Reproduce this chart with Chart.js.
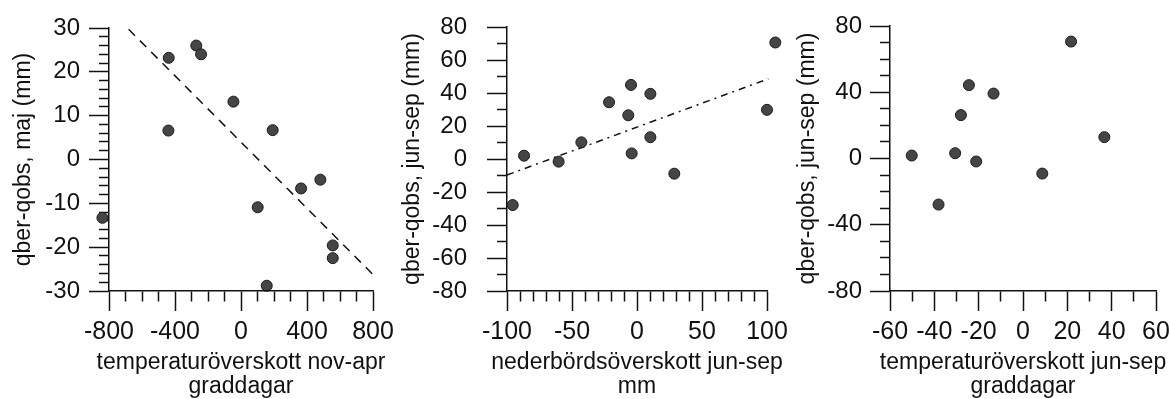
<!DOCTYPE html>
<html>
<head>
<meta charset="utf-8">
<script src="https://cdn.jsdelivr.net/npm/chart.js@4"></script>
<style>
  html, body { margin: 0; padding: 0; background: #fff; }
  #wrap { position: relative; width: 1170px; height: 399px; overflow: hidden; }
  #wrap canvas { position: absolute; left: 0; top: 0; }
</style>
</head>
<body>
<div id="wrap">
  <canvas id="c1" width="1170" height="399"></canvas>
  <canvas id="c2" width="1170" height="399"></canvas>
  <canvas id="c3" width="1170" height="399"></canvas>
</div>
<script>
// panel 1: temperaturöverskott nov-apr vs qber-qobs maj
const tempNovApr = [-840, -438, -440, -271, -242, -46, 192, 101, 364, 481, 556, 556, 156];
const qMaj = [-13.3, 23.2, 6.6, 26.0, 24.0, 13.2, 6.7, -10.9, -6.6, -4.6, -19.6, -22.5, -28.8];
const fitMajX = [-681, 804];
const fitMajY = [29.7, -26.4];

// panel 2: nederbördsöverskott jun-sep vs qber-qobs jun-sep
const precJunSep = [106.4, -95.6, -86.9, -60.3, -42.8, -21.5, -6.7, -4.6, -4.1, 10.3, 10.3, 28.7, 100];
const qJunSep = [70.6, -27.9, 2.0, -1.6, 10.1, 34.4, 26.5, 44.9, 3.4, 39.5, 13.2, -8.9, 29.8];
const fitPrecX = [-100, 101];
const fitPrecY = [-9.7, 48.6];

// panel 3: temperaturöverskott jun-sep vs qber-qobs jun-sep
const tempJunSep = [-50.2, -38.1, -30.6, -28.0, -24.4, -21.1, -13.3, 8.7, 21.7, 36.7];
const qJunSep3 = [1.8, -27.8, 3.2, 26.2, 44.3, -1.8, 39.2, -9.1, 70.6, 12.9];

const FONT = "'Liberation Sans', Arial, Helvetica, sans-serif";
const INK = '#111';
const W = 1170, H = 399;
const Y_TITLE_SIZE = 23, Y_TITLE_LH = 1.2;

const isMajor = (v, step) => Math.abs(Math.round(v / step) * step - v) < 1e-6;

// points just outside the axes (e.g. x=-840) are still drawn in the original,
// and the x titles are wider than the plot, so don't squeeze them
const looseArea = {
  id: 'looseArea',
  beforeDraw(c) {
    const s = c.scales.x;
    s._l = s.left; s._r = s.right;
    s.left -= 60; s.right += 60;
  },
  beforeDatasetsDraw(c) {
    const s = c.scales.x;
    s.left = s._l; s.right = s._r;
    c._realArea = c.chartArea;
    c.chartArea = {left: 0, top: 0, right: c.width, bottom: c.height, width: c.width, height: c.height};
  },
  afterDatasetsDraw(c) { c.chartArea = c._realArea; }
};

function makePanel(id, p) {
  const points = p.xs.map((x, i) => ({x: x, y: p.ys[i]}));
  const datasets = [{
    data: points,
    pointRadius: 5.5,
    pointBackgroundColor: '#454545',
    pointBorderColor: '#1a1a1a',
    pointBorderWidth: 1,
    clip: false
  }];
  if (p.fitX) {
    datasets.push({
      data: p.fitX.map((x, i) => ({x: x, y: p.fitY[i]})),
      showLine: true,
      pointRadius: 0,
      borderColor: INK,
      borderWidth: 1.5,
      borderDash: p.dash,
      clip: false
    });
  }
  const padLeft = p.yTitleX - Y_TITLE_SIZE * Y_TITLE_LH / 2;
  new Chart(document.getElementById(id), {
    type: 'scatter',
    data: {datasets: datasets},
    options: {
      responsive: false,
      animation: false,
      events: [],
      layout: {padding: {left: padLeft, right: W - p.area.right, top: p.area.top, bottom: 0}},
      plugins: {legend: {display: false}, tooltip: {enabled: false}},
      scales: {
        x: {
          type: 'linear', min: p.xMin, max: p.xMax,
          afterFit: s => { s.height = H - p.area.bottom; s.paddingLeft = 0; s.paddingRight = 0; },
          border: {display: true, color: INK, width: 1.5, z: 1},
          grid: {
            drawOnChartArea: false, tickLength: 20, tickColor: INK, tickWidth: 1.5,
            tickBorderDash: c => isMajor(c.tick.value, p.xMajor) ? [] : [10, 10]
          },
          ticks: {
            stepSize: p.xStep, autoSkip: false, maxTicksLimit: 200, maxRotation: 0, z: 1,
            padding: 6, color: INK, font: {family: FONT, size: 25},
            callback: v => isMajor(v, p.xMajor) ? String(Math.round(v)) : ''
          },
          title: {
            display: true, text: p.xTitle, color: INK, padding: 0,
            font: {family: FONT, size: 23, lineHeight: 1.04}
          }
        },
        y: {
          type: 'linear', min: p.yMin, max: p.yMax,
          afterFit: s => { s.width = p.area.left - padLeft; s.paddingTop = 0; s.paddingBottom = 0; },
          border: {display: true, color: INK, width: 1.5},
          grid: {
            drawOnChartArea: false, tickLength: 20, tickColor: INK, tickWidth: 1.5,
            tickBorderDash: c => isMajor(c.tick.value, p.yMajor) ? [] : [0, 10, 10, 0]
          },
          ticks: {
            stepSize: p.yStep, autoSkip: false, maxTicksLimit: 200,
            padding: p.yPad, color: INK, font: {family: FONT, size: 24},
            callback: v => isMajor(v, p.yMajor) ? String(Math.round(v)) : ''
          },
          title: {
            display: true, text: p.yTitle, color: INK, padding: 0,
            font: {family: FONT, size: Y_TITLE_SIZE, lineHeight: Y_TITLE_LH}
          }
        }
      }
    },
    plugins: [looseArea]
  });
}

makePanel('c1', {
  xs: tempNovApr, ys: qMaj, fitX: fitMajX, fitY: fitMajY, dash: [9, 7],
  xMin: -800, xMax: 800, xStep: 100, xMajor: 400,
  yMin: -30, yMax: 30, yStep: 2, yMajor: 10, yPad: 9,
  xTitle: ['temperaturöverskott nov-apr', 'graddagar'],
  yTitle: 'qber-qobs, maj (mm)', yTitleX: 24,
  area: {left: 109, right: 373, top: 28, bottom: 291}
});

makePanel('c2', {
  xs: precJunSep, ys: qJunSep, fitX: fitPrecX, fitY: fitPrecY, dash: [7, 5, 2, 5],
  xMin: -100, xMax: 100, xStep: 10, xMajor: 50,
  yMin: -80, yMax: 80, yStep: 10, yMajor: 20, yPad: 20,
  xTitle: ['nederbördsöverskott jun-sep', 'mm'],
  yTitle: 'qber-qobs, jun-sep (mm)', yTitleX: 413,
  area: {left: 507, right: 767, top: 27, bottom: 291}
});

makePanel('c3', {
  xs: tempJunSep, ys: qJunSep3,
  xMin: -60, xMax: 60, xStep: 10, xMajor: 20,
  yMin: -80, yMax: 80, yStep: 10, yMajor: 40, yPad: 8,
  xTitle: ['temperaturöverskott jun-sep', 'graddagar'],
  yTitle: 'qber-qobs, jun-sep (mm)', yTitleX: 808,
  area: {left: 890, right: 1156, top: 26, bottom: 291}
});
</script>
</body>
</html>
